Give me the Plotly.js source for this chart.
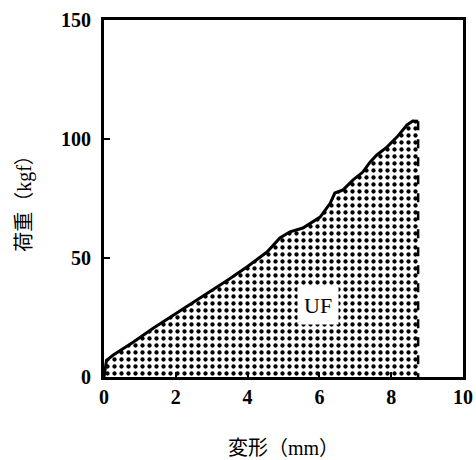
<!DOCTYPE html>
<html>
<head>
<meta charset="utf-8">
<script src="https://cdn.plot.ly/plotly-3.0.1.min.js"></script>
<style>html,body{margin:0;padding:0;background:#fff;}#chart{width:476px;height:460px;}</style>
</head>
<body>
<div id="chart"></div>
<script>
// Deformation (mm) and load (kgf)
const deformation = [0, 0.07, 0.26, 0.82, 1.38, 1.93, 2.49, 2.95, 3.45, 3.98, 4.54, 4.9, 5.18, 5.54, 6.02, 6.3, 6.43, 6.66, 6.94, 7.21, 7.41, 7.6, 7.88, 8.16, 8.44, 8.6, 8.75];
const load = [0, 7, 9.2, 14.7, 20.6, 26, 31.5, 35.7, 40.8, 46.2, 52.5, 58.4, 61, 62.6, 67.2, 73, 77.3, 78.6, 82.8, 86.1, 90.3, 93.3, 96.6, 100.8, 105.9, 107.6, 107.5];
const xTicks = [0, 2, 4, 6, 8, 10];
const yTicks = [0, 50, 100, 150];
const areaLabel = "UF";
const xTitle = "変形（mm）";
const yTitle = "荷重（kgf）";

const lastX = deformation[deformation.length - 1];
const lastY = load[load.length - 1];

const serif = "Liberation Serif, Noto Sans CJK JP, serif";

const traces = [
  {
    x: deformation, y: load, type: "scatter", mode: "lines",
    line: {color: "#000", width: 3},
    fill: "tozeroy",
    fillcolor: "#fff",
    fillpattern: {shape: ".", size: 7, solidity: 0.3, fgcolor: "#000", bgcolor: "#fff"},
    hoverinfo: "skip", showlegend: false
  },
  {
    x: [lastX, lastX], y: [lastY, 0], type: "scatter", mode: "lines",
    line: {color: "#000", width: 2.5, dash: "dash"},
    hoverinfo: "skip", showlegend: false
  }
];

const layout = {
  width: 476, height: 460,
  margin: {l: 104, r: 13, t: 20, b: 83},
  paper_bgcolor: "#fff", plot_bgcolor: "#fff",
  font: {family: serif, color: "#000"},
  showlegend: false,
  xaxis: {
    range: [0, 10], tickvals: xTicks, ticktext: xTicks.map(String),
    showgrid: false, zeroline: false,
    showline: true, mirror: true, linecolor: "#000", linewidth: 3,
    ticks: "inside", ticklen: 5, tickwidth: 2, tickcolor: "#000",
    tickfont: {family: serif, size: 20, color: "#000", weight: "bold"},
    ticklabelstandoff: 0,
    title: {text: xTitle, font: {family: serif, size: 20, color: "#000"}, standoff: 34},
    automargin: false
  },
  yaxis: {
    range: [0, 150], tickvals: yTicks, ticktext: yTicks.map(String),
    showgrid: false, zeroline: false,
    showline: true, mirror: true, linecolor: "#000", linewidth: 3,
    ticks: "inside", ticklen: 6, tickwidth: 2, tickcolor: "#000",
    tickfont: {family: serif, size: 20, color: "#000", weight: "bold"},
    ticklabelstandoff: 6,
    title: {text: yTitle, font: {family: serif, size: 20, color: "#000"}, standoff: 25},
    automargin: false
  },
  annotations: [{
    x: 5.95, y: 30, xref: "x", yref: "y", text: areaLabel, showarrow: false,
    font: {family: serif, size: 22, color: "#000"},
    bgcolor: "#fff", borderpad: 6
  }]
};

Plotly.newPlot("chart", traces, layout, {displayModeBar: false, staticPlot: true});
</script>
</body>
</html>
